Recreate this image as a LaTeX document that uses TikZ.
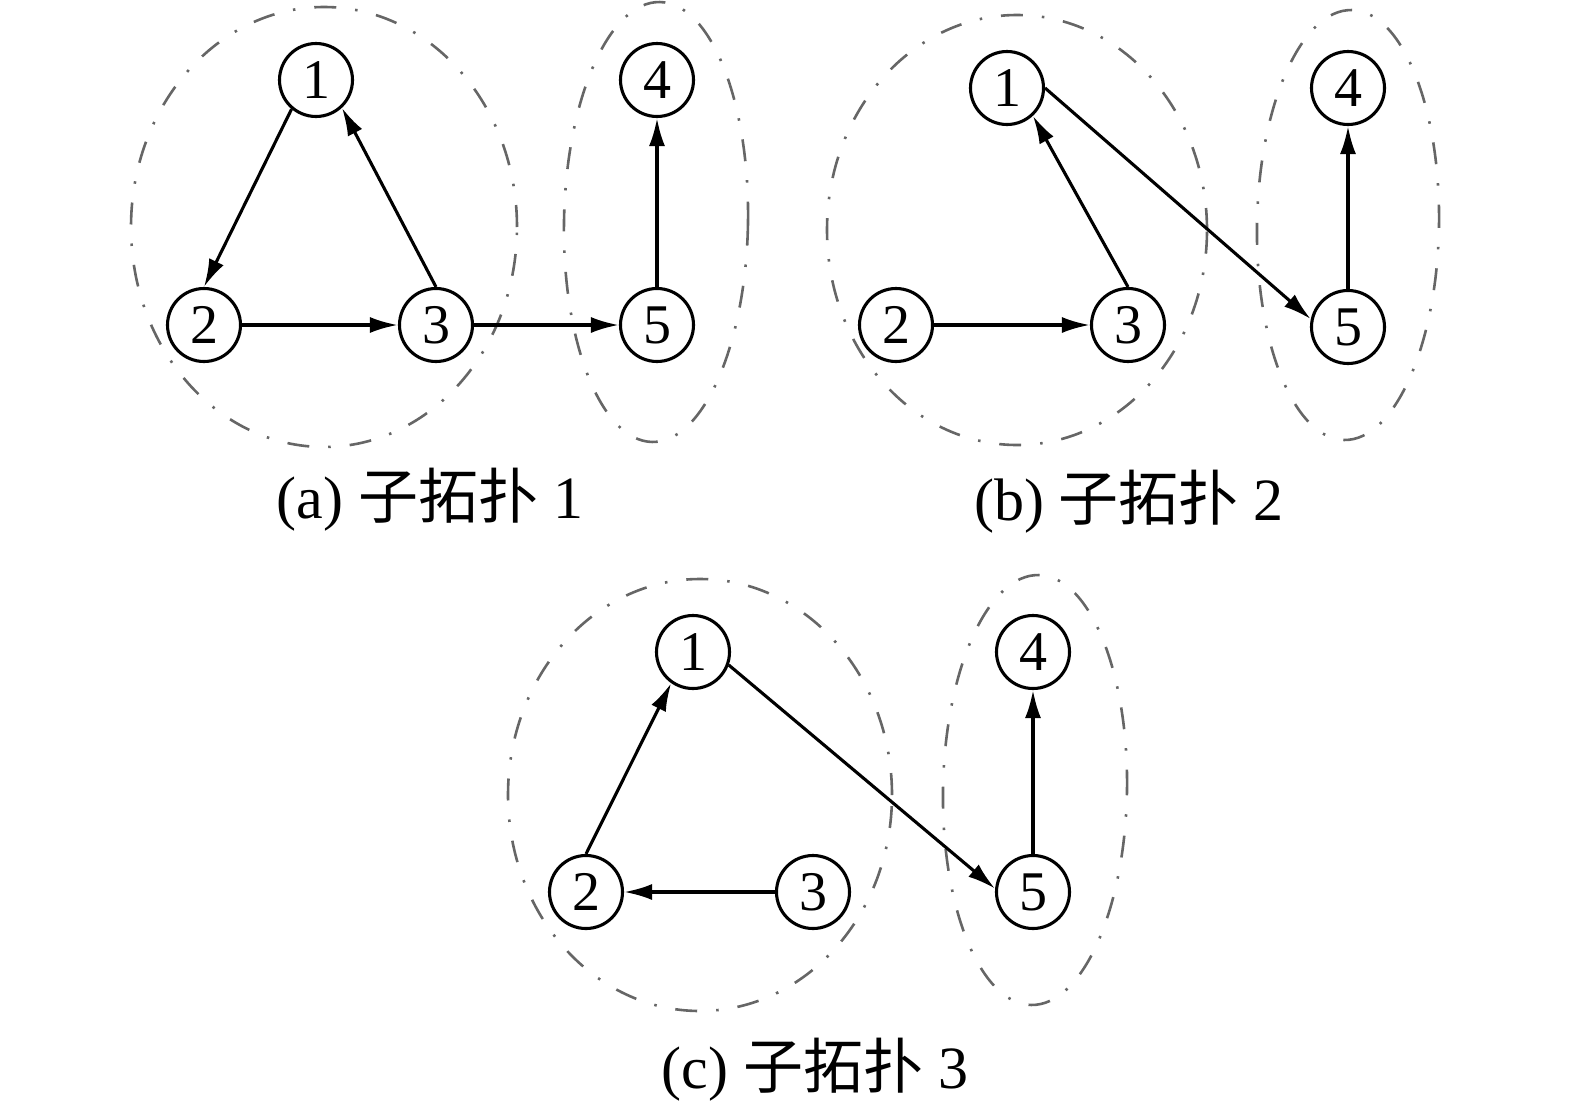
\documentclass[tikz,border=0pt]{standalone}
\usepackage{fontspec}
\setmainfont{Liberation Serif}
\newfontfamily\cjk{Noto Sans CJK SC}
\usetikzlibrary{arrows.meta}
\begin{document}
\begin{tikzpicture}[x=1pt,y=-1pt,
  vtx/.style={circle,draw,line width=3.1pt,minimum size=73pt,inner sep=0pt,font=\fontsize{56}{56}\selectfont},
  edge/.style={line width=3.1pt,-{Latex[length=28pt,width=16pt]}},
  grp/.style={draw=black!60,line width=2.6pt,dash pattern=on 22pt off 19pt on 2.5pt off 19pt},
  captxt/.style={font=\fontsize{60}{64}\selectfont}]
\useasboundingbox (0,0) rectangle (1575,1114);
% (a)
\draw[grp] (324,227) ellipse [x radius=193pt, y radius=220pt];
\draw[grp] (656,222) ellipse [x radius=92pt, y radius=220pt, rotate=-1];
\node[vtx] (a1) at (316,80) {1};
\node[vtx] (a2) at (204,325) {2};
\node[vtx] (a3) at (436,325) {3};
\node[vtx] (a4) at (657,80) {4};
\node[vtx] (a5) at (657,325) {5};
\draw[edge] (a1.-130) -- (a2.north);
\draw[edge] (a3.north) -- (a1.-47);
\draw[edge] (a2) -- (a3);
\draw[edge] (a3) -- (a5);
\draw[edge] (a5) -- (a4);
\node[captxt] (la) at (430,500) {(a) {\cjk 子拓扑} 1};
% (b)
\draw[grp] (1017,230) ellipse [x radius=190pt, y radius=215pt];
\draw[grp] (1348,225) ellipse [x radius=91pt, y radius=215pt, rotate=-1];
\node[vtx] (b1) at (1007,88) {1};
\node[vtx] (b2) at (896,325) {2};
\node[vtx] (b3) at (1128,325) {3};
\node[vtx] (b4) at (1348,88) {4};
\node[vtx] (b5) at (1348,327) {5};
\draw[edge] (b3.north) -- (b1.-47);
\draw[edge] (b2) -- (b3);
\draw[edge] (b1.east) -- (b5.168);
\draw[edge] (b5) -- (b4);
\node[captxt] (lb) at (1129,502) {(b) {\cjk 子拓扑} 2};
% (c)
\draw[grp] (700,795) ellipse [x radius=192pt, y radius=216pt];
\draw[grp] (1035,790) ellipse [x radius=92pt, y radius=215pt, rotate=-1];
\node[vtx] (c1) at (693,652) {1};
\node[vtx] (c2) at (586,892) {2};
\node[vtx] (c3) at (813,892) {3};
\node[vtx] (c4) at (1033,652) {4};
\node[vtx] (c5) at (1033,892) {5};
\draw[edge] (c2.north) -- (c1.-125);
\draw[edge] (c1.-20) -- (c5.175);
\draw[edge] (c3) -- (c2);
\draw[edge] (c5) -- (c4);
\node[captxt] (lc) at (815,1070) {(c) {\cjk 子拓扑} 3};
\end{tikzpicture}
\end{document}
